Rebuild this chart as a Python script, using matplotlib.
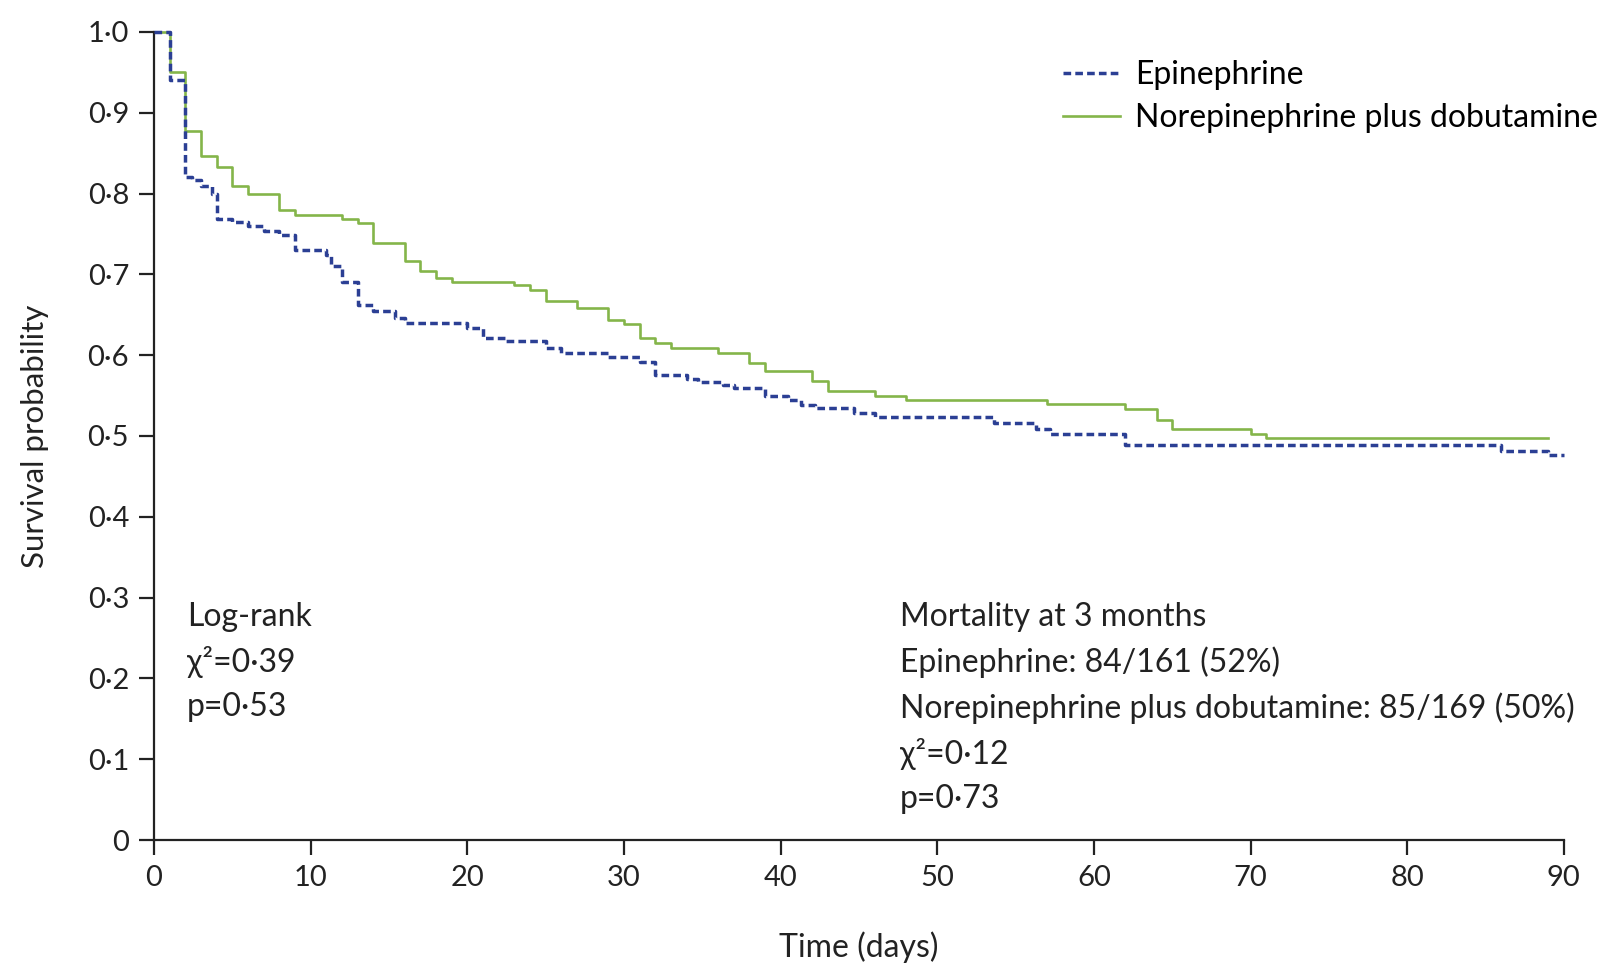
import matplotlib
matplotlib.use('Agg')
import matplotlib.pyplot as plt

plt.rcParams['font.family'] = ['Lato', 'DejaVu Sans']

# step times (days) and survival after each step
epi_days = [0, 1, 2, 2.4, 3, 3.7, 4, 5, 6, 7, 8, 9, 11, 11.3, 12, 13, 14, 15.4, 16,
            20, 21, 22.4, 25, 26, 29, 31, 32, 34, 34.7, 36.3, 37, 39, 40.5, 41.3,
            42.2, 44.7, 46, 53.6, 56.3, 57.2, 62, 86, 89, 90]
epi_surv = [1.0, 0.941, 0.821, 0.817, 0.809, 0.800, 0.769, 0.765, 0.760, 0.753, 0.749,
            0.730, 0.724, 0.710, 0.690, 0.662, 0.654, 0.646, 0.640, 0.634, 0.621,
            0.617, 0.609, 0.603, 0.598, 0.592, 0.576, 0.571, 0.567, 0.563, 0.559,
            0.549, 0.545, 0.538, 0.535, 0.528, 0.524, 0.516, 0.509, 0.503, 0.489,
            0.482, 0.477, 0.477]

nd_days = [0, 1, 2, 3, 4, 5, 6, 8, 9, 12, 13, 14, 16, 17, 18, 19, 23, 24, 25, 27, 29,
           30, 31, 32, 33, 36, 38, 39, 42, 43, 46, 48, 57, 62, 64, 65, 70, 71, 89]
nd_surv = [1.0, 0.950, 0.877, 0.846, 0.833, 0.809, 0.799, 0.780, 0.774, 0.769, 0.763,
           0.739, 0.716, 0.704, 0.696, 0.691, 0.687, 0.681, 0.667, 0.658, 0.644, 0.638,
           0.621, 0.615, 0.609, 0.603, 0.590, 0.580, 0.568, 0.556, 0.550, 0.544, 0.539,
           0.533, 0.520, 0.508, 0.502, 0.497, 0.497]

labels = ['Epinephrine', 'Norepinephrine plus dobutamine']
blue = '#2b3f94'
green = '#84b54a'
ink = '#222222'

fig = plt.figure(figsize=(16.13, 9.66), dpi=100)
ax = fig.add_axes([0.0955, 0.1304, 0.874, 0.8366])

ax.step(epi_days, epi_surv, where='post', color=blue, lw=2.5,
        dashes=(2.2, 1.2), label=labels[0], clip_on=False, zorder=3)
ax.step(nd_days, nd_surv, where='post', color=green, lw=1.9,
        label=labels[1], clip_on=False, zorder=2)

ax.set_xlim(0, 90)
ax.set_ylim(0, 1)
ax.set_xticks(range(0, 91, 10))
yt = [i / 10 for i in range(11)]
ax.set_yticks(yt)
ax.set_yticklabels(['0'] + [f'{v:.1f}'.replace('.', '·') for v in yt[1:]])

for s in ['top', 'right']:
    ax.spines[s].set_visible(False)
for s in ['left', 'bottom']:
    ax.spines[s].set_linewidth(1.6)
    ax.spines[s].set_color(ink)
ax.tick_params(direction='out', length=11, width=1.6, labelsize=21,
               colors=ink, pad=7)

ax.set_xlabel('Time (days)', fontsize=23, labelpad=29, color=ink)
ax.set_ylabel('Survival probability', fontsize=22.5, labelpad=28, color=ink)

ax.text(2.1, 0.295, 'Log-rank\nχ²=0·39\np=0·53', fontsize=23, va='top',
        linespacing=1.56, color=ink)
ax.text(47.6, 0.295,
        'Mortality at 3 months\nEpinephrine: 84/161 (52%)\n'
        'Norepinephrine plus dobutamine: 85/169 (50%)\nχ²=0·12\np=0·73',
        fontsize=23, va='top', linespacing=1.56, color=ink)

ax.legend(loc='upper left', bbox_to_anchor=(1063 / 1613, 1 - 60 / 966),
          bbox_transform=fig.transFigure, frameon=False, fontsize=23,
          handlelength=1.77, handletextpad=0.48, labelspacing=0.42,
          borderpad=0, borderaxespad=0)

fig.savefig('out.png', dpi=100)
